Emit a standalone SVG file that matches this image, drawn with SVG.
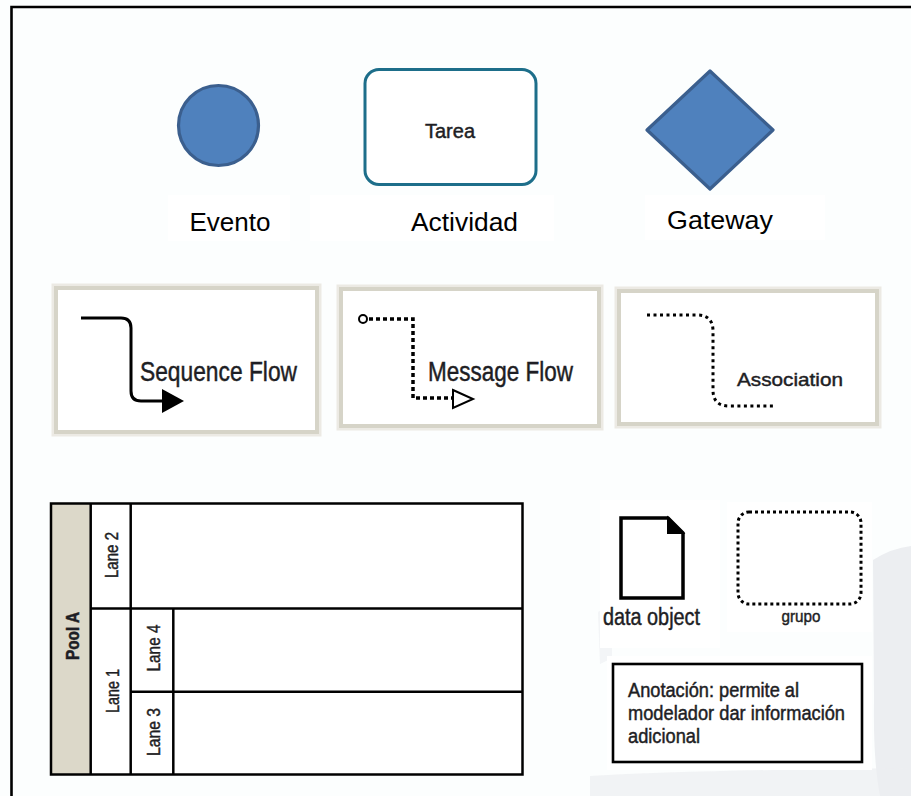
<svg xmlns="http://www.w3.org/2000/svg" width="911" height="796" viewBox="0 0 911 796">
<defs>
<style>
.lbl{font-family:"Liberation Sans",Arial,sans-serif;fill:#000}
.nar{font-family:"Liberation Sans Narrow","Arial Narrow","Liberation Sans",Arial,sans-serif;fill:#1e1e24;stroke:#1e1e24;stroke-width:0.45}
.flowbox{fill:#fff;stroke:#d6d4c8;stroke-width:4}
.flowshadow{fill:none;stroke:#eceae4;stroke-width:9}
.ln{stroke:#000;stroke-width:2.5;fill:none}
.bg{fill:#fff}
</style>
</defs>
<rect width="911" height="796" fill="#fcfefe"/>
<g id="watermark" fill="#eceef1">
<path d="M873 560 Q892 548 911 546 L911 796 L880 796 Q873 760 874 700 Z"/>
<path d="M590 776 Q700 770 911 768 L911 796 L590 796 Z" opacity="0.7"/>
<path d="M598 612 L612 604 L612 658 L600 664 Z" opacity="0.6"/>
</g>
<path d="M11.5 796 V7 H911" fill="none" stroke="#000" stroke-width="2.6"/>

<g id="evento">
<ellipse cx="218.5" cy="125.5" rx="40" ry="40" fill="#4f81bd" stroke="#3b5f8e" stroke-width="3.2"/>
<rect class="bg" x="168" y="195" width="122" height="46"/>
<text class="lbl" x="230" y="231" font-size="25" text-anchor="middle" textLength="81" lengthAdjust="spacingAndGlyphs">Evento</text>
</g>
<g id="actividad">
<rect x="365" y="69.5" width="171" height="115" rx="14" fill="#fff" stroke="#1d6e8a" stroke-width="3"/>
<text class="nar" x="450" y="138" font-size="20" text-anchor="middle" textLength="50" lengthAdjust="spacingAndGlyphs" fill="#2a2a2a">Tarea</text>
<rect class="bg" x="310" y="195" width="244" height="46"/>
<text class="lbl" x="464.5" y="231" font-size="25" text-anchor="middle" textLength="107" lengthAdjust="spacingAndGlyphs">Actividad</text>
</g>
<g id="gateway">
<polygon points="710,71 773,130 710,189 647,130" fill="#4f81bd" stroke="#3b5f8e" stroke-width="3.2" stroke-linejoin="round"/>
<rect class="bg" x="645" y="195" width="180" height="45"/>
<text class="lbl" x="720" y="229" font-size="25" text-anchor="middle" textLength="106" lengthAdjust="spacingAndGlyphs">Gateway</text>
</g>

<g id="sequence-flow-box">
<rect class="flowshadow" x="56" y="288" width="261" height="144"/>
<rect class="flowbox" x="56" y="288" width="261" height="144"/>
<text class="nar" x="140" y="381" font-size="27" textLength="157" lengthAdjust="spacingAndGlyphs">Sequence Flow</text>
</g>
<g id="message-flow-box">
<rect class="flowshadow" x="341" y="289" width="258" height="137"/>
<rect class="flowbox" x="341" y="289" width="258" height="137"/>
<text class="nar" x="428" y="381" font-size="27" textLength="145" lengthAdjust="spacingAndGlyphs">Message Flow</text>
</g>
<g id="association-box">
<rect class="flowshadow" x="619" y="291" width="258" height="133"/>
<rect class="flowbox" x="619" y="291" width="258" height="133"/>
<text class="nar" x="737" y="386" font-size="19" textLength="106" lengthAdjust="spacingAndGlyphs">Association</text>
</g>

<g id="connectors">
<path d="M81 318 H121 Q131 318 131 328 V391 Q131 401 141 401 H166" fill="none" stroke="#000" stroke-width="3"/>
<polygon points="184,401 162,389 162,413" fill="#000"/>
<circle cx="363" cy="319" r="4" fill="#fff" stroke="#000" stroke-width="2"/>
<path d="M369 319 H413 V398 H452" fill="none" stroke="#000" stroke-width="3.5" stroke-dasharray="4 3"/>
<polygon points="453,390 473,399 453,408" fill="#fff" stroke="#000" stroke-width="2"/>
<path d="M647 315 H697 Q713 315 713 331 V390 Q713 406 729 406 H776" fill="none" stroke="#000" stroke-width="3" stroke-dasharray="3 3.5"/>
</g>

<g id="pool-a">
<rect x="51" y="503.5" width="471.5" height="271" fill="#fff"/>
<rect x="51" y="503.5" width="39.7" height="271" fill="#dcd8c9"/>
<rect class="ln" x="51" y="503.5" width="471.5" height="271"/>
<line class="ln" x1="90.7" y1="503.5" x2="90.7" y2="774.5"/>
<line class="ln" x1="130.7" y1="503.5" x2="130.7" y2="774.5"/>
<line class="ln" x1="90.7" y1="608.5" x2="522.5" y2="608.5"/>
<line class="ln" x1="173.3" y1="608.5" x2="173.3" y2="774.5"/>
<line class="ln" x1="130.7" y1="691.7" x2="522.5" y2="691.7"/>
<text class="nar" transform="translate(79 636) rotate(-90)" font-size="18" font-weight="bold" text-anchor="middle" textLength="48" lengthAdjust="spacingAndGlyphs">Pool A</text>
</g>
<g id="lane-2">
<text class="nar" transform="translate(118 555) rotate(-90)" font-size="18" text-anchor="middle" textLength="46" lengthAdjust="spacingAndGlyphs">Lane 2</text>
</g>
<g id="lane-1">
<text class="nar" transform="translate(118.5 691) rotate(-90)" font-size="18" text-anchor="middle" textLength="44" lengthAdjust="spacingAndGlyphs">Lane 1</text>
</g>
<g id="lane-4">
<text class="nar" transform="translate(160 648) rotate(-90)" font-size="18" text-anchor="middle" textLength="47" lengthAdjust="spacingAndGlyphs">Lane 4</text>
</g>
<g id="lane-3">
<text class="nar" transform="translate(160 732) rotate(-90)" font-size="18" text-anchor="middle" textLength="48" lengthAdjust="spacingAndGlyphs">Lane 3</text>
</g>

<g id="data-object">
<rect class="bg" x="600" y="500" width="120" height="148"/>
<path d="M621 518 H668 L683 533 V598 H621 Z" fill="#fff" stroke="#000" stroke-width="3.5" stroke-linejoin="miter"/>
<polygon points="668,518 683,533 668,533" fill="#000" stroke="#000" stroke-width="2"/>
<text class="nar" x="603" y="625" font-size="23" textLength="97" lengthAdjust="spacingAndGlyphs">data object</text>
</g>
<g id="grupo">
<rect class="bg" x="727" y="502" width="145" height="130"/>
<rect x="738" y="512" width="123" height="92" rx="11" fill="none" stroke="#000" stroke-width="3" stroke-dasharray="3 3"/>
<text class="nar" x="801" y="622" font-size="17" text-anchor="middle" textLength="39" lengthAdjust="spacingAndGlyphs">grupo</text>
</g>
<g id="anotacion">
<rect class="bg" x="607" y="656" width="265" height="114"/>
<rect x="613" y="664" width="249" height="98" fill="#fff" stroke="#000" stroke-width="2.6"/>
<text class="nar" x="628" y="697" font-size="19.5" textLength="171" lengthAdjust="spacingAndGlyphs">Anotación: permite al</text>
<text class="nar" x="628" y="720" font-size="19.5" textLength="217" lengthAdjust="spacingAndGlyphs">modelador dar información</text>
<text class="nar" x="628" y="743" font-size="19.5" textLength="72" lengthAdjust="spacingAndGlyphs">adicional</text>
</g>
</svg>
